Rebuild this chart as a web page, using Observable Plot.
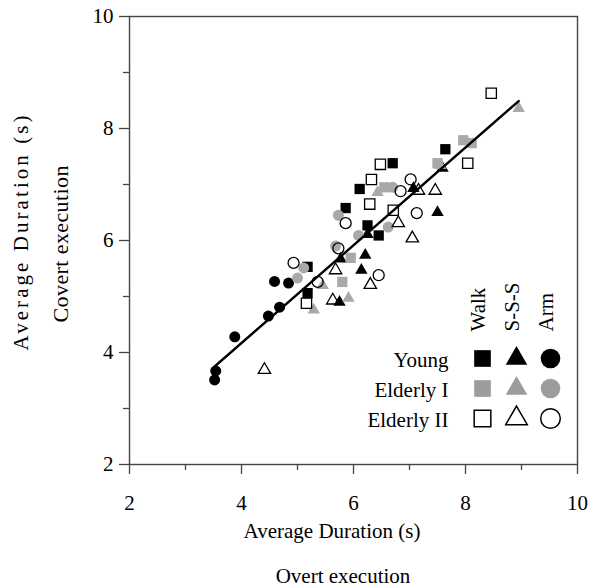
<!DOCTYPE html>
<html><head><meta charset="utf-8">
<script src="https://cdn.jsdelivr.net/npm/d3@7"></script>
<script src="https://cdn.jsdelivr.net/npm/@observablehq/plot@0.6"></script>
<style>
body{margin:0;background:#fff;}
#wrap{position:relative;width:595px;height:587px;}
#wrap svg{position:absolute;left:0;top:0;}
</style></head><body><div id="wrap"></div>
<script>
// ---- data ----
const xTicks = [2, 4, 6, 8, 10];
const xMinor = [3, 5, 7, 9];
const yTicks = [2, 4, 6, 8, 10];
const yMinor = [3, 5, 7, 9];
const groups = ["Young", "Elderly I", "Elderly II"];
const tasks = ["Walk", "S-S-S", "Arm"];

const youngWalk = [[7.64,7.63],[6.70,7.38],[6.11,6.92],[5.86,6.58],[6.25,6.27],[6.45,6.09],[5.18,5.53],[5.18,5.06]];
const youngSSS  = [[7.59,7.29],[7.07,6.93],[7.50,6.50],[6.25,6.11],[6.21,5.74],[6.14,5.47],[5.77,5.67],[5.75,4.90]];
const youngArm  = [[4.59,5.27],[4.84,5.24],[4.68,4.81],[4.48,4.65],[3.88,4.28],[3.54,3.67],[3.52,3.51]];

const elderly1Walk = [[7.96,7.79],[8.11,7.74],[7.50,7.38],[6.55,6.95],[5.95,5.69],[5.80,5.26]];
const elderly1SSS  = [[8.95,8.36],[7.55,7.34],[6.43,6.86],[5.91,4.97],[5.29,4.76],[5.45,5.20]];
const elderly1Arm  = [[6.70,6.95],[6.62,6.24],[5.73,6.45],[6.09,6.09],[5.68,5.90],[5.11,5.51],[5.00,5.33]];

const elderly2Walk = [[8.46,8.63],[8.04,7.38],[6.48,7.36],[6.32,7.09],[6.29,6.65],[6.71,6.54],[5.16,4.88]];
const elderly2SSS  = [[7.16,6.89],[7.46,6.89],[6.80,6.31],[7.05,6.04],[4.41,3.69],[5.68,5.47],[5.63,4.93],[6.30,5.21]];
const elderly2Arm  = [[7.02,7.09],[6.84,6.88],[7.13,6.49],[5.86,6.31],[4.93,5.60],[5.36,5.26],[6.45,5.38],[5.73,5.86]];

const fitLine = [[3.52,3.75],[8.95,8.49]];

// ---- styles ----
const FONT = "'Liberation Serif', 'Times New Roman', serif";
const GRAY = "#a9a9a9";
const LGRAY = "#9c9c9c";
const rData = {square: 5.8, triangle: 4.6, circle: 5.5};
const rLeg = {square: 9.4, triangle: 8, circle: 9.8};
const taskSymbol = {"Walk": "square", "S-S-S": "triangle", "Arm": "circle"};

function dots(data, sym, kind) {
  const base = {x: d => d[0], y: d => d[1], symbol: () => sym, r: rData[sym]};
  if (kind === "solid") return Plot.dot(data, {...base, fill: "black", stroke: "none"});
  if (kind === "gray") return Plot.dot(data, {...base, fill: GRAY, stroke: "none"});
  return Plot.dot(data, {...base, fill: "none", stroke: "black", strokeWidth: 1.3});
}

const chart = Plot.plot({
  width: 595, height: 587,
  marginLeft: 129, marginRight: 18, marginTop: 16, marginBottom: 123,
  x: {domain: [2, 10]},
  y: {domain: [2, 10]},
  style: {fontFamily: FONT, fontSize: "21px", color: "black", background: "white"},
  marks: [
    Plot.axisX({ticks: xTicks, tickSize: 10, tickPadding: 21, fontSize: 21, stroke: "#444", strokeWidth: 1.3, label: null}),
    Plot.axisX({ticks: xMinor, tickSize: 6, tickFormat: () => "", stroke: "#444", strokeWidth: 1.3, label: null}),
    Plot.axisY({ticks: yTicks, tickSize: 10, tickPadding: 6, fontSize: 21, stroke: "#444", strokeWidth: 1.3, label: null}),
    Plot.axisY({ticks: yMinor, tickSize: 6, tickFormat: () => "", stroke: "#444", strokeWidth: 1.3, label: null}),
    Plot.frame({stroke: "#444", strokeWidth: 1.4}),
    dots(youngWalk, "square", "solid"),
    dots(youngSSS, "triangle", "solid"),
    dots(youngArm, "circle", "solid"),
    dots(elderly1Walk, "square", "gray"),
    dots(elderly1SSS, "triangle", "gray"),
    dots(elderly1Arm, "circle", "gray"),
    dots(elderly2Walk, "square", "open"),
    dots(elderly2SSS, "triangle", "open"),
    dots(elderly2Arm, "circle", "open"),
    Plot.line(fitLine, {x: d => d[0], y: d => d[1], stroke: "black", strokeWidth: 2.4})
  ]
});

const svg = d3.select(chart);
function addText(txt, x, y, size, rotate, len) {
  const t = svg.append("text")
    .attr("transform", `translate(${x},${y})` + (rotate ? ` rotate(${rotate})` : ""))
    .attr("text-anchor", "middle")
    .attr("font-family", FONT)
    .attr("font-size", size)
    .attr("fill", "black")
    .text(txt);
  if (len) t.attr("textLength", len).attr("lengthAdjust", "spacing");
}
addText("Average Duration (s)", 332, 538, 21);
addText("Overt execution", 343, 583, 21);
addText("Average Duration (s)", 28, 233, 21, -90, 235);
addText("Covert execution", 68, 244, 22, -90, 157);

// ---- legend ----
const cells = groups.flatMap(g => tasks.map(t => ({group: g, task: t})));
function legDots(task) {
  const sym = taskSymbol[task];
  const sel = cells.filter(c => c.task === task);
  return [
    Plot.dot(sel.filter(c => c.group === "Young"), {x: "task", y: "group", symbol: () => sym, r: rLeg[sym], fill: "black", stroke: "none"}),
    Plot.dot(sel.filter(c => c.group === "Elderly I"), {x: "task", y: "group", symbol: () => sym, r: rLeg[sym], fill: LGRAY, stroke: "none"}),
    Plot.dot(sel.filter(c => c.group === "Elderly II"), {x: "task", y: "group", symbol: () => sym, r: rLeg[sym], fill: "none", stroke: "black", strokeWidth: 1.5})
  ];
}
const legend = Plot.plot({
  width: 595, height: 587,
  margin: 0,
  x: {type: "point", domain: tasks, range: [482, 550], padding: 0, axis: null},
  y: {type: "point", domain: groups, range: [357, 418], padding: 0, axis: null},
  style: {fontFamily: FONT, fontSize: "21px", color: "black", background: "transparent"},
  marks: [
    ...tasks.flatMap(legDots),
    Plot.text(groups, {x: () => "Walk", y: d => d, text: d => d, textAnchor: "end", dx: -34, dy: 2, fontSize: 21, fill: "black"}),
    Plot.text(tasks, {x: d => d, y: () => "Young", text: d => d, rotate: -90, textAnchor: "start", dx: -4, dy: -27, fontSize: 21, fill: "black"})
  ]
});

const wrap = document.getElementById("wrap");
wrap.appendChild(chart);
wrap.appendChild(legend);
</script></body></html>
